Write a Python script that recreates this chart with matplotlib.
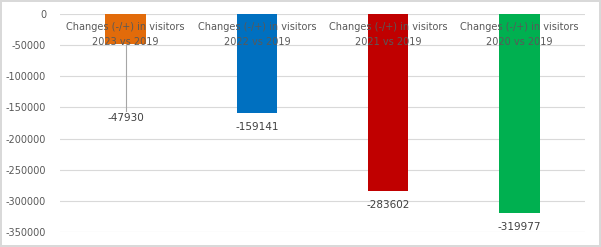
import matplotlib.pyplot as plt

categories = ['Changes (-/+) in visitors\n2023 vs 2019',
              'Changes (-/+) in visitors\n2022 vs 2019',
              'Changes (-/+) in visitors\n2021 vs 2019',
              'Changes (-/+) in visitors\n2020 vs 2019']
values = [-47930, -159141, -283602, -319977]
colors = ['#E26B0A', '#0070C0', '#C00000', '#00B050']
yticks = [0, -50000, -100000, -150000, -200000, -250000, -300000, -350000]

fig = plt.figure(figsize=(6.01, 2.47), dpi=100)
fig.patch.set_edgecolor('#d9d9d9')
fig.patch.set_linewidth(1.5)
ax = fig.add_axes([0.1, 0.061, 0.873, 0.882])

x = list(range(len(values)))
ax.bar(x, values, width=0.31, color=colors, zorder=2)
ax.set_xlim(-0.5, len(values) - 0.5)
ax.set_ylim(-350000, 0)
ax.set_yticks(yticks)
ax.set_yticklabels([str(t) for t in yticks], fontsize=7, color='#595959')
ax.tick_params(axis='y', length=0, pad=10)
ax.set_xticks([])
ax.grid(axis='y', color='#d9d9d9', linewidth=0.8, zorder=0)
for s in ax.spines.values():
    s.set_visible(False)

# category labels sit at the zero axis, over the bars
for i, c in enumerate(categories):
    ax.text(i, -13000, c, ha='center', va='top', fontsize=7, color='#595959',
            linespacing=1.6, zorder=3)

# data labels below the bars; first one pulled down with a leader line
for i, v in enumerate(values):
    if i == 0:
        ly = -167000
        ax.plot([i, i], [v, -155000], color='#a6a6a6', linewidth=0.8, zorder=3)
    else:
        ly = v - 22500
    ax.text(i, ly, str(v), ha='center', va='center', fontsize=7.5, color='#404040',
            zorder=3)

fig.savefig('out.png', dpi=100)
